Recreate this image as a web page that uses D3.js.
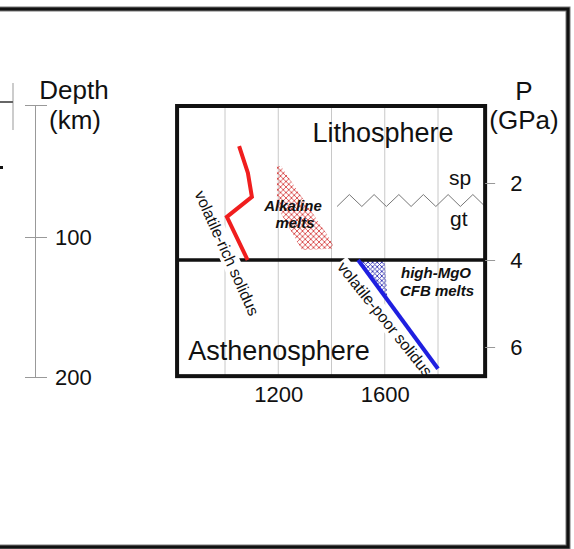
<!DOCTYPE html>
<html>
<head>
<meta charset="utf-8">
<script src="https://cdn.jsdelivr.net/npm/d3@7"></script>
<style>
  html, body { margin: 0; padding: 0; background: #fff; }
  svg { display: block; }
  text { font-family: "Liberation Sans", Arial, sans-serif; fill: #111; }
</style>
</head>
<body>
<svg id="chart" width="574" height="549"></svg>
<script>
// Temperature (°C) grid and labelled ticks
const tempGrid = [1000, 1200, 1400, 1600, 1800];
const tempLabels = [1200, 1600];
// Pressure (GPa) ticks and depth (km) ticks
const pressureTicks = [2, 4, 6];
const depthTicks = [0, 100, 200];
const depthLabels = [100, 200];

// Plot window in data units
const frameT = [820, 1977];
const frameP = [0, 6.67];

// Lithosphere / asthenosphere boundary (GPa)
const boundaryP = 4;

// Volatile-rich solidus
const richT = [1053, 1086, 1101, 1007, 1085];
const richP = [1.04, 1.74, 2.36, 2.88, 4.0];

// Volatile-poor solidus
const poorT = [1500, 1800];
const poorP = [4.0, 6.5];

// Alkaline melts field
const alkT = [1195, 1210, 1402, 1406, 1289, 1195];
const alkP = [1.56, 1.56, 3.53, 3.71, 3.74, 2.61];

// High-MgO CFB melts field
const cfbT = [1500, 1600, 1610];
const cfbP = [4.0, 4.0, 4.9];

// Spinel / garnet transition (zigzag)
const spgtT = [1421, 1467, 1514, 1560, 1606, 1653, 1699, 1745, 1792, 1838, 1884, 1931, 1977];
const spgtP = [2.61, 2.30, 2.61, 2.30, 2.61, 2.30, 2.61, 2.30, 2.61, 2.30, 2.61, 2.30, 2.61];

const svg = d3.select("#chart");

const x = d3.scaleLinear().domain([1000, 1800]).range([225, 438]);
const y = d3.scaleLinear().domain([2, 4, 6]).range([183, 260, 347]);
const depth = d3.scaleLinear().domain([0, 100, 200]).range([105, 237, 377]);

const zip = (a, b) => a.map((v, i) => [v, b[i]]);
const line = d3.line().x(d => x(d[0])).y(d => y(d[1]));
const fmt = d3.format("d");

// Cross-hatch patterns
const defs = svg.append("defs");
function hatch(id, color, size, width) {
  const p = defs.append("pattern")
    .attr("id", id).attr("patternUnits", "userSpaceOnUse")
    .attr("width", size).attr("height", size);
  p.append("path")
    .attr("d", `M0,0L${size},${size}M0,${size}L${size},0`)
    .attr("stroke", color).attr("stroke-width", width).attr("fill", "none");
}
hatch("hatchRed", "#d84848", 5.5, 0.9);
hatch("hatchBlue", "#3434b4", 4.6, 0.9);

// Outer frame
svg.append("rect")
  .attr("x", -10).attr("y", 9).attr("width", 578).attr("height", 538)
  .attr("fill", "none").attr("stroke", "#777").attr("stroke-width", 5);
svg.append("rect")
  .attr("x", -10).attr("y", 9).attr("width", 578).attr("height", 538)
  .attr("fill", "none").attr("stroke", "#111").attr("stroke-width", 3);

// Edge of neighbouring panel
svg.append("line").attr("x1", 13).attr("x2", 13).attr("y1", 83).attr("y2", 130)
  .attr("stroke", "#999").attr("stroke-width", 1);
svg.append("line").attr("x1", 0).attr("x2", 13).attr("y1", 102).attr("y2", 102)
  .attr("stroke", "#666").attr("stroke-width", 2);
svg.append("rect").attr("x", 0).attr("y", 166).attr("width", 3).attr("height", 3).attr("fill", "#111");

// Depth axis
const dAxis = svg.append("g").attr("transform", "translate(35,0)")
  .call(d3.axisRight(depth).tickValues(depthTicks).tickSizeInner(12).tickSizeOuter(0).tickPadding(8)
    .tickFormat(d => depthLabels.includes(d) ? fmt(d) : ""));
dAxis.select(".domain").attr("stroke", "#999");
dAxis.selectAll(".tick line").attr("x1", -10).attr("stroke", "#999");
dAxis.selectAll(".tick text").attr("font-size", 22).attr("fill", "#111")
  .style("font-family", "'Liberation Sans', Arial, sans-serif");
svg.append("text").attr("x", 74).attr("y", 99).attr("text-anchor", "middle")
  .attr("font-size", 26).text("Depth");
svg.append("text").attr("x", 75).attr("y", 129).attr("text-anchor", "middle")
  .attr("font-size", 26).text("(km)");

const X0 = x(frameT[0]), X1 = x(frameT[1]);
const Y0 = y(frameP[0]), Y1 = y(frameP[1]);

// Temperature grid
svg.append("g").selectAll("line").data(tempGrid).join("line")
  .attr("x1", d => x(d)).attr("x2", d => x(d))
  .attr("y1", Y0).attr("y2", Y1)
  .attr("stroke", "#c8c8c8").attr("stroke-width", 1);

// Melt fields
svg.append("path").attr("d", line(zip(alkT, alkP)) + "Z").attr("fill", "url(#hatchRed)");
svg.append("path").attr("d", line(zip(cfbT, cfbP)) + "Z").attr("fill", "url(#hatchBlue)");

// Spinel-garnet transition
svg.append("path").attr("d", line(zip(spgtT, spgtP)))
  .attr("fill", "none").attr("stroke", "#777").attr("stroke-width", 1);

// Lithosphere-asthenosphere boundary
svg.append("line").attr("x1", X0).attr("x2", X1).attr("y1", y(boundaryP)).attr("y2", y(boundaryP))
  .attr("stroke", "#111").attr("stroke-width", 3.5);

// Rotated labels on white backing
function rotatedLabel(txt, cx, cy, angle) {
  const g = svg.append("g").attr("transform", `translate(${cx},${cy}) rotate(${angle})`);
  const bg = g.append("rect").attr("fill", "#fff");
  const t = g.append("text").attr("text-anchor", "middle").attr("dy", "0.35em")
    .attr("font-size", 16).text(txt);
  const b = t.node().getBBox();
  bg.attr("x", b.x - 2).attr("y", -9).attr("width", b.width + 4).attr("height", 18);
}
rotatedLabel("volatile-rich solidus", 227, 253, 65.8);
rotatedLabel("volatile-poor solidus", 385, 319, 51.3);

// Solidus curves
svg.append("path").attr("d", line(zip(richT, richP)))
  .attr("fill", "none").attr("stroke", "#f01e1e").attr("stroke-width", 4)
  .attr("stroke-linejoin", "miter");
svg.append("path").attr("d", line(zip(poorT, poorP)))
  .attr("fill", "none").attr("stroke", "#1f1fe0").attr("stroke-width", 4);

// Field labels
svg.append("text").attr("x", 383).attr("y", 142).attr("text-anchor", "middle")
  .attr("font-size", 27).text("Lithosphere");
svg.append("text").attr("x", 279).attr("y", 360).attr("text-anchor", "middle")
  .attr("font-size", 27).text("Asthenosphere");
svg.append("text").attr("x", 449).attr("y", 185).attr("font-size", 21).text("sp");
svg.append("text").attr("x", 450).attr("y", 226).attr("font-size", 21).text("gt");

const bi = (txt, cx, by) => svg.append("text").attr("x", cx).attr("y", by)
  .attr("text-anchor", "middle").attr("font-size", 15)
  .attr("font-weight", "bold").attr("font-style", "italic").text(txt);
bi("Alkaline", 293, 211);
bi("melts", 295, 228);
bi("high-MgO", 436, 278);
bi("CFB melts", 437, 296);

// Plot window
svg.append("rect").attr("x", X0).attr("y", Y0).attr("width", X1 - X0).attr("height", Y1 - Y0)
  .attr("fill", "none").attr("stroke", "#111").attr("stroke-width", 4);

// Temperature labels
const tAxis = svg.append("g").attr("transform", `translate(0,${Y1})`)
  .call(d3.axisBottom(x).tickValues(tempLabels).tickSize(0).tickPadding(10).tickFormat(fmt));
tAxis.select(".domain").remove();
tAxis.selectAll(".tick text").attr("font-size", 22).attr("fill", "#111")
  .style("font-family", "'Liberation Sans', Arial, sans-serif");

// Pressure axis
const pAxis = svg.append("g").attr("transform", `translate(${X1},0)`)
  .call(d3.axisRight(y).tickValues(pressureTicks).tickSize(10).tickPadding(15).tickFormat(fmt));
pAxis.select(".domain").remove();
pAxis.selectAll(".tick line").attr("stroke", "#999");
pAxis.selectAll(".tick text").attr("font-size", 22).attr("fill", "#111")
  .style("font-family", "'Liberation Sans', Arial, sans-serif");
svg.append("text").attr("x", 524).attr("y", 100).attr("text-anchor", "middle")
  .attr("font-size", 26).text("P");
svg.append("text").attr("x", 524).attr("y", 129).attr("text-anchor", "middle")
  .attr("font-size", 26).text("(GPa)");
</script>
</body>
</html>
